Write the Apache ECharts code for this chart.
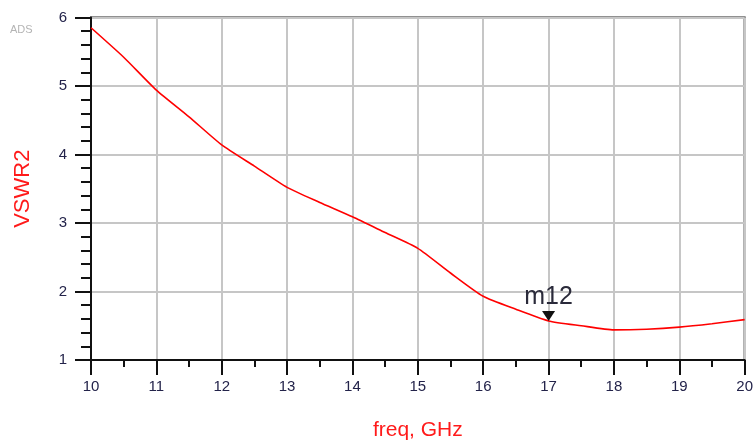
<!DOCTYPE html>
<html>
<head>
<meta charset="utf-8">
<script src="https://cdn.jsdelivr.net/npm/echarts@6/dist/echarts.min.js"></script>
<style>
  html, body { margin: 0; padding: 0; background: #ffffff; }
  #chart { width: 756px; height: 446px; }
</style>
</head>
<body>
<div id="chart"></div>
<script>
// Frequency sweep (GHz) and VSWR at port 2
const freqGHz = [10, 10.5, 11, 11.5, 12, 12.5, 13, 13.5, 14, 14.5, 15, 15.5, 16, 16.5, 17, 17.5, 18, 18.5, 19, 19.5, 20];
const vswr2   = [5.85, 5.42, 4.94, 4.55, 4.14, 3.83, 3.52, 3.30, 3.09, 2.86, 2.63, 2.27, 1.93, 1.74, 1.57, 1.50, 1.44, 1.45, 1.48, 1.53, 1.59];

// Marker m12
const markerName = 'm12';
const markerFreq = 17;
const markerValue = 1.57;

const FONT = '"Liberation Sans", Arial, sans-serif';
const RED = '#ff1a1a';
const TICK_TEXT = '#23234a';

const chart = echarts.init(document.getElementById('chart'), null, { renderer: 'canvas' });

chart.setOption({
  animation: false,
  backgroundColor: '#ffffff',
  grid: {
    left: 91, right: 6, top: 17.5, bottom: 76.5,
    show: true, borderColor: '#222222', borderWidth: 2, backgroundColor: 'transparent'
  },
  graphic: [{
    type: 'text', left: 10, top: 24,
    style: { text: 'ADS', fill: '#b4b4b4', font: '11px ' + FONT }
  }],
  xAxis: {
    type: 'value', min: 10, max: 20, interval: 1,
    name: 'freq, GHz', nameLocation: 'middle', nameGap: 60,
    nameTextStyle: { color: RED, fontSize: 21, fontFamily: FONT },
    axisLine: { show: true, onZero: false, lineStyle: { color: '#111111', width: 2 } },
    axisTick: { show: true, inside: false, length: 15, lineStyle: { color: '#111111', width: 2 } },
    minorTick: { show: true, splitNumber: 2, length: 7, lineStyle: { color: '#111111', width: 2 } },
    axisLabel: { color: TICK_TEXT, fontSize: 15, fontFamily: FONT, margin: 19 },
    splitLine: { show: true, lineStyle: { color: '#c6c6c6', width: 2 } }
  },
  yAxis: {
    type: 'value', min: 1, max: 6, interval: 1,
    name: 'VSWR2', nameLocation: 'middle', nameGap: 57, nameRotate: 90,
    nameTextStyle: { color: RED, fontSize: 22, fontFamily: FONT },
    axisLine: { show: true, onZero: false, lineStyle: { color: '#111111', width: 2 } },
    axisTick: { show: true, inside: false, length: 16, lineStyle: { color: '#111111', width: 2 } },
    minorTick: { show: true, splitNumber: 5, length: 10, lineStyle: { color: '#111111', width: 2 } },
    axisLabel: { color: TICK_TEXT, fontSize: 15, fontFamily: FONT, margin: 24 },
    splitLine: { show: true, lineStyle: { color: '#c6c6c6', width: 2 } }
  },
  series: [{
    type: 'line',
    data: freqGHz.map((f, i) => [f, vswr2[i]]),
    showSymbol: false,
    smooth: 0.2,
    lineStyle: { color: '#ff0000', width: 1.6 },
    markPoint: {
      symbol: 'triangle',
      symbolSize: [13, 10],
      symbolRotate: 180,
      symbolOffset: [0, -5],
      itemStyle: { color: '#111111' },
      label: {
        show: true, position: 'top', distance: 1,
        formatter: markerName,
        color: '#2a2a3a', fontSize: 25, fontFamily: FONT
      },
      data: [{ name: markerName, coord: [markerFreq, markerValue] }]
    }
  }]
});
</script>
</body>
</html>
